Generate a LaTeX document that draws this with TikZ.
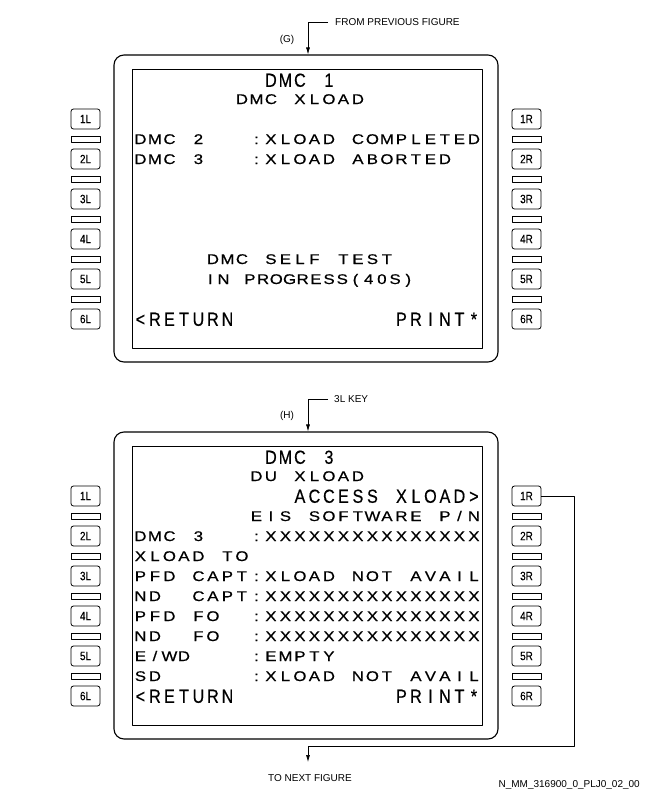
\documentclass[tikz,border=0pt]{standalone}
\usepackage{fontspec}
\setmainfont{Liberation Sans}
\newfontfamily\lcdsmall[FakeStretch=1.2,FakeBold=0.6]{Liberation Sans}
\newfontfamily\lcdbig[FakeStretch=0.85,FakeBold=0.5]{Liberation Sans}
\newfontfamily\keyfont[FakeStretch=0.82,FakeBold=0.4]{Liberation Sans}
\newfontfamily\lblfont{Liberation Sans}
\usetikzlibrary{arrows.meta}

\ExplSyntaxOn
\dim_new:N \l_cellw_dim
\NewDocumentCommand\cells{O{14.5pt}m}{
  \dim_set:Nn \l_cellw_dim {#1}
  \str_map_inline:nn {#2} { \makebox[\l_cellw_dim]{ \str_if_eq:nnF {##1} {_} {##1} } }
}
\ExplSyntaxOff

\begin{document}
\begin{tikzpicture}[x=1pt,y=-1pt,line join=round,
  outerbox/.style={draw,line width=1.1pt,rounded corners=10pt,minimum width=384pt,minimum height=307pt,inner sep=0pt},
  screen/.style={draw,line width=0.9pt,minimum width=350pt,minimum height=279pt,inner sep=0pt},
  keybox/.style={draw,line width=0.8pt,rounded corners=2.5pt,minimum width=29pt,minimum height=20pt,inner sep=0pt,font=\keyfont\fontsize{12}{12}\selectfont},
  barbox/.style={draw,line width=0.8pt,minimum width=29pt,minimum height=6pt,inner sep=0pt},
  big/.style={anchor=base west,inner sep=0pt,font=\lcdbig\fontsize{19}{19}\selectfont},
  small/.style={anchor=base west,inner sep=0pt,font=\lcdsmall\fontsize{14}{14}\selectfont},
  lbl/.style={inner sep=0pt,font=\lblfont\fontsize{10}{10}\selectfont},
  conn/.style={line width=0.7pt,-{Latex[length=7pt,width=4pt]}},
  link/.style={line width=0.7pt}]
\useasboundingbox (0,0) rectangle (648,792);
\fill[white] (0,0) rectangle (648,792);

% frames and keys for both panels
\foreach \p/\dy in {A/0,B/377}{
  \begin{scope}[shift={(0,\dy)}]
    \node[outerbox] (\p-outer) at (306,208.5) {};
    \node[screen] (\p-screen) at (307,208.5) {};
    \foreach \i in {1,...,6}{
      \node[keybox] (\p-key\i L) at (85.5,{79+40*\i}) {\i L};
      \node[keybox] (\p-key\i R) at (526.5,{79+40*\i}) {\i R};
    }
    \foreach \i in {1,...,5}{
      \node[barbox] (\p-barL\i) at (85.5,{99+40*\i}) {};
      \node[barbox] (\p-barR\i) at (526.5,{99+40*\i}) {};
    }
  \end{scope}
}

% ---------- panel A texts ----------
\node[big]   (A-r0)  at ({133+14.5*9},86.8)  {\cells{DMC_1}};
\node[small] (A-r1)  at ({133+14.5*7},104) {\cells{DMC_XLOAD}};
\node[small] (A-r3)  at (133,144) {\cells{DMC_2___:XLOAD_COMPLETED}};
\node[small] (A-r4)  at (133,164) {\cells{DMC_3___:XLOAD_ABORTED}};
\node[small] (A-r9)  at ({133+14.5*5},264) {\cells{DMC_SELF_TEST}};
\node[small] (A-r10) at (203.5,284) {\cells[13.2pt]{IN_PROGRESS(40S)}};
\node[big]   (A-r12a) at (133,325.8) {\cells{<RETURN}};
\node[big]   (A-r12b) at ({133+14.5*18},325.8) {\cells{PRINT*}};

% ---------- panel B texts ----------
\begin{scope}[shift={(0,377)}]
\node[big]   (B-r0)  at ({133+14.5*9},86.8)  {\cells{DMC_3}};
\node[small] (B-r1)  at ({133+14.5*8},104) {\cells{DU_XLOAD}};
\node[big]   (B-r2)  at ({133+14.5*11},125.8) {\cells{ACCESS_XLOAD>}};
\node[small] (B-r3)  at ({133+14.5*8},144) {\cells{EIS_SOFTWARE_P/N}};
\node[small] (B-r4)  at (133,164) {\cells{DMC_3___:XXXXXXXXXXXXXXX}};
\node[small] (B-r5)  at (133,184) {\cells{XLOAD_TO}};
\node[small] (B-r6)  at (133,204) {\cells{PFD_CAPT:XLOAD_NOT_AVAIL}};
\node[small] (B-r7)  at (133,224) {\cells{ND__CAPT:XXXXXXXXXXXXXXX}};
\node[small] (B-r8)  at (133,244) {\cells{PFD_FO__:XXXXXXXXXXXXXXX}};
\node[small] (B-r9)  at (133,264) {\cells{ND__FO__:XXXXXXXXXXXXXXX}};
\node[small] (B-r10) at (133,284) {\cells{E/WD____:EMPTY}};
\node[small] (B-r11) at (133,304) {\cells{SD______:XLOAD_NOT_AVAIL}};
\node[big]   (B-r12a) at (133,325.8) {\cells{<RETURN}};
\node[big]   (B-r12b) at ({133+14.5*18},325.8) {\cells{PRINT*}};
\end{scope}

% ---------- labels ----------
\node[lbl,anchor=west] (fromlbl) at (335,22) {FROM PREVIOUS FIGURE};
\node[lbl] (glbl) at (287,40) {(G)};
\node[lbl,anchor=west] (keylbl) at (334,399) {3L KEY};
\node[lbl] (hlbl) at (287,416) {(H)};
\node[lbl] (tonext) at (310,778) {TO NEXT FIGURE};
\node[lbl,anchor=east] (docid) at (640,785) {N\_MM\_316900\_0\_PLJ0\_02\_00};

% ---------- connectors ----------
\coordinate (A-g1) at (328,22);
\coordinate (A-g2) at (308,22);
\draw[conn] (A-g1) -- (A-g2) -- (A-g2 |- A-outer.north);
\coordinate (B-g1) at (328,399);
\coordinate (B-g2) at (308,399);
\draw[conn] (B-g1) -- (B-g2) -- (B-g2 |- B-outer.north);
\coordinate (n1) at (574,746);
\coordinate (n2) at (308,746);
\coordinate (n3) at (308,762);
\draw[conn] (B-key1R.east) -| (n1) -- (n2) -- (n3);
\end{tikzpicture}
\end{document}
